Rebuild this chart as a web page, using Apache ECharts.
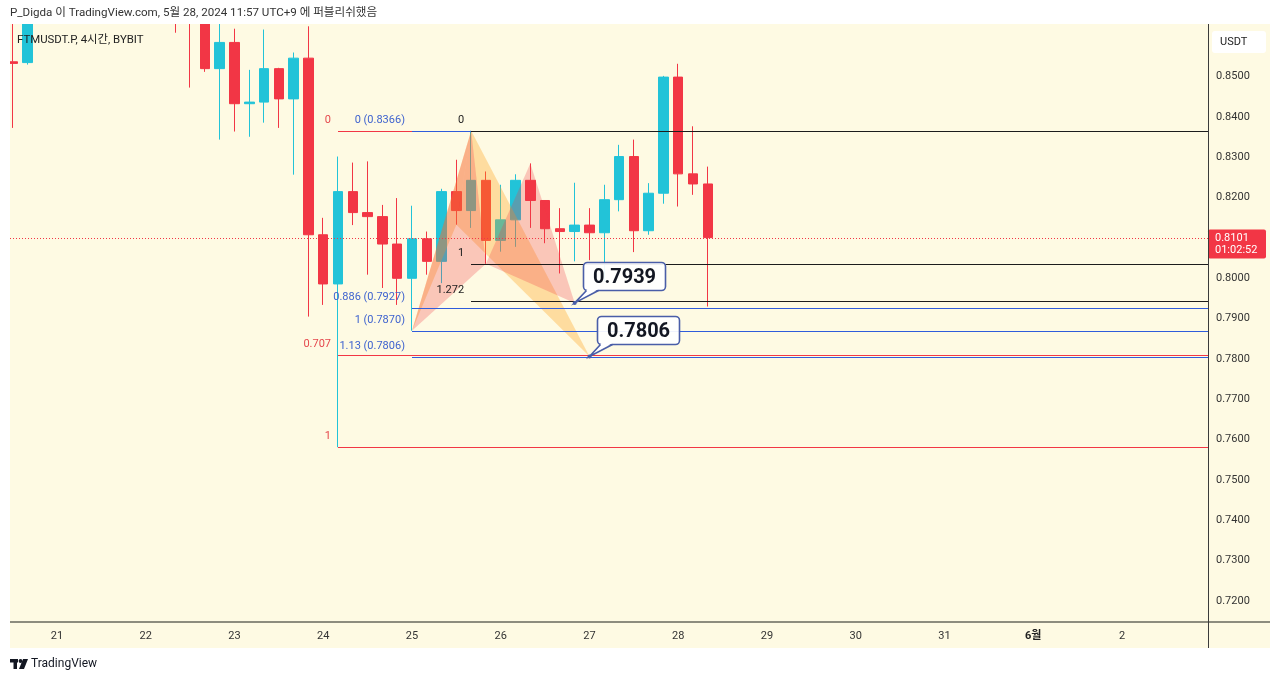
<!DOCTYPE html>
<html>
<head>
<meta charset="utf-8">
<script src="https://cdn.jsdelivr.net/npm/echarts@6/dist/echarts.min.js"></script>
<style>
html,body{margin:0;padding:0;background:#ffffff;}
#chart{width:1280px;height:681px;}
</style>
</head>
<body>
<div id="chart"></div>
<script>
// ---- data (x = hours since 2024-05-20 00:00, 4h candles) ----
const candleHours = [12,16,56,60,64,68,72,76,80,84,88,92,96,100,104,108,112,116,120,124,128,132,136,140,144,148,152,156,160,164,168,172,176,180,184,188,192,196,200];
const opens  = [0.8537,0.8535,0.8740,0.8700,0.8680,0.8520,0.8585,0.8433,0.8437,0.8520,0.8445,0.8546,0.8108,0.7986,0.8215,0.8163,0.8153,0.8085,0.8000,0.8098,0.8042,0.8215,0.8168,0.8243,0.8094,0.8145,0.8243,0.8193,0.8123,0.8116,0.8132,0.8113,0.8195,0.8302,0.8118,0.8211,0.8499,0.8259,0.8234];
const closes = [0.8533,0.8680,0.8660,0.8650,0.8520,0.8585,0.8433,0.8437,0.8520,0.8445,0.8546,0.8108,0.7986,0.8215,0.8163,0.8153,0.8085,0.8000,0.8098,0.8042,0.8215,0.8168,0.8243,0.8094,0.8145,0.8243,0.8193,0.8123,0.8116,0.8132,0.8113,0.8195,0.8302,0.8118,0.8211,0.8499,0.8259,0.8234,0.8101];
const lows   = [0.8373,0.8530,0.8609,0.8473,0.8512,0.8344,0.8364,0.8351,0.8386,0.8373,0.8257,0.7905,0.7934,0.7581,0.8132,0.8009,0.7976,0.7934,0.7870,0.8009,0.7988,0.8133,0.8125,0.8036,0.8066,0.8078,0.8125,0.8087,0.8012,0.8042,0.8045,0.7992,0.8166,0.8065,0.8108,0.8185,0.8178,0.8207,0.7930];
const highs  = [0.8680,0.8720,0.8770,0.8730,0.8700,0.8660,0.8619,0.8517,0.8617,0.8522,0.8560,0.8625,0.8150,0.8302,0.8287,0.8290,0.8182,0.8199,0.8180,0.8116,0.8222,0.8294,0.8366,0.8265,0.8232,0.8258,0.8285,0.8193,0.8174,0.8237,0.8174,0.8232,0.8331,0.8344,0.8236,0.8502,0.8532,0.8377,0.8277];

const priceTicks = [0.72,0.73,0.74,0.75,0.76,0.77,0.78,0.79,0.80,0.81,0.82,0.83,0.84,0.85];
const dayTicks   = [24,48,72,96,120,144,168,192,216,240,264,288,312];
const dayLabels  = ['21','22','23','24','25','26','27','28','29','30','31','6월','2'];

const lastPrice = 0.8101;
const countdown = '01:02:52';

// Fibonacci drawings
const redFibLabels = ['0','0.707','1'];
const redFibPrices = [0.8366,0.7811,0.7581];
const redFibStart = 100;
const blueFibLabels = ['0 (0.8366)','0.886 (0.7927)','1 (0.7870)','1.13 (0.7806)'];
const blueFibPrices = [0.8366,0.7927,0.7870,0.7806];
const blueFibStart = 120;
const blackFibLabels = ['0','1','1.272'];
const blackFibPrices = [0.8366,0.8036,0.7944];
const blackFibStart = 136;

// harmonic patterns X, A, B, C, D  [hour, price]
const pinkPattern   = [[120,0.7870],[136,0.8366],[140,0.8036],[152,0.8285],[164,0.7939]];
const yellowPattern = [[120,0.7870],[136,0.8366],[132,0.8133],[136,0.8366],[168,0.7806]];

// callouts
const calloutHours  = [164,168];
const calloutPrices = [0.7939,0.7806];
const calloutTexts  = ['0.7939','0.7806'];

// ---- chart ----
const X_MIN = 11.29, X_MAX = 335.26;
const Y_MIN = 0.71476, Y_MAX = 0.86307;
const FONT = 'Roboto, "Noto Sans", "Noto Sans CJK KR", sans-serif';
const UP = '#22c3d8', DOWN = '#f23645';

const candleData = candleHours.map((h, i) => [h, opens[i], closes[i], lows[i], highs[i]]);

function crisp(v){ return Math.round(v) + 0.5; }

function fibSeries(name, labels, prices, start, lineColor, textColor){
  return {
    type: 'custom', name, z: 6, clip: false,
    coordinateSystem: 'cartesian2d',
    data: prices.map((p, i) => [start, p, i]),
    renderItem(params, api){
      const i = api.value(2);
      const a = api.coord([start, prices[i]]);
      const b = api.coord([X_MAX, prices[i]]);
      const y = Math.round(a[1]);
      const x0 = Math.round(a[0]);
      return {
        type: 'group',
        children: [
          {type:'rect', shape:{x:x0, y:y, width:Math.round(b[0]) - x0, height:1}, style:{fill:lineColor}},
          {type:'text', style:{text:labels[i], x:a[0]-7, y:y-11, align:'right', verticalAlign:'middle', fill:textColor, font:'11px ' + FONT}}
        ]
      };
    }
  };
}

function patternSeries(name, pts, fill){
  return {
    type: 'custom', name, z: 4, clip: true,
    coordinateSystem: 'cartesian2d',
    data: [[pts[0][0], pts[0][1], 0], [pts[2][0], pts[2][1], 2]],
    renderItem(params, api){
      const s = api.value(2);
      const poly = [pts[s], pts[s+1], pts[s+2]].map(p => api.coord(p));
      return {type:'polygon', shape:{points: poly}, style:{fill: fill}};
    }
  };
}

const option = {
  backgroundColor: '#ffffff',
  animation: false,
  grid: {left: 10, top: 24, width: 1198, height: 598},
  xAxis: {
    type: 'value', min: X_MIN, max: X_MAX,
    splitLine: {show: false},
    axisLine: {show: false},
    axisTick: {show: false},
    axisLabel: {
      customValues: dayTicks,
      margin: 9,
      color: '#333333',
      fontSize: 11,
      fontFamily: FONT,
      formatter: (v) => {
        const i = dayTicks.indexOf(v);
        const t = i >= 0 ? dayLabels[i] : '';
        return t.indexOf('월') >= 0 ? '{b|' + t + '}' : t;
      },
      rich: {b: {fontWeight: 'bold', fontSize: 11, color: '#222', fontFamily: FONT}}
    }
  },
  yAxis: {
    type: 'value', position: 'right', min: Y_MIN, max: Y_MAX, scale: true,
    splitLine: {show: false},
    axisLine: {show: false},
    axisTick: {show: false},
    axisLabel: {
      customValues: priceTicks,
      margin: 8,
      align: 'left',
      color: '#333333',
      fontSize: 11,
      fontFamily: FONT,
      formatter: (v) => v.toFixed(4)
    }
  },
  graphic: {
    elements: [
      {type:'rect', z:-10, silent:true, shape:{x:10, y:24, width:1260, height:624}, style:{fill:'#fefae3'}},
      // masks outside the plot (candles above the top edge are cut like the original)
      {type:'rect', z:15, silent:true, shape:{x:0, y:0, width:1280, height:24}, style:{fill:'#ffffff'}},
      {type:'rect', z:15, silent:true, shape:{x:0, y:0, width:10, height:681}, style:{fill:'#ffffff'}},
      {type:'rect', z:20, silent:true, shape:{x:10, y:621, width:1260, height:2}, style:{fill:'#8d8c7e'}},
      {type:'rect', z:20, silent:true, shape:{x:1208, y:24, width:1, height:624}, style:{fill:'#3b3b3b'}},
      {type:'text', z:20, silent:true, style:{text:'P_Digda 이 TradingView.com, 5월 28, 2024 11:57 UTC+9 에 퍼블리쉬했음', x:10, y:13, verticalAlign:'middle', fill:'#333333', font:'11.6px ' + FONT}},
      {type:'text', z:20, silent:true, style:{text:'FTMUSDT.P, 4시간, BYBIT', x:17, y:40, verticalAlign:'middle', fill:'#222222', font:'11.4px ' + FONT}},
      {type:'rect', z:20, silent:true, shape:{x:1212, y:31, width:54, height:22, r:3}, style:{fill:'#ffffff'}},
      {type:'text', z:21, silent:true, style:{text:'USDT', x:1220, y:42, verticalAlign:'middle', fill:'#222222', font:'11px ' + FONT}},
      // TradingView logo
      {type:'rect', z:20, silent:true, shape:{x:10, y:659, width:8, height:3.5}, style:{fill:'#131722'}},
      {type:'rect', z:20, silent:true, shape:{x:13.5, y:659, width:3.5, height:10}, style:{fill:'#131722'}},
      {type:'circle', z:20, silent:true, shape:{cx:20.5, cy:661, r:1.9}, style:{fill:'#131722'}},
      {type:'polygon', z:20, silent:true, shape:{points:[[23,659],[28,659],[24,669],[19,669]]}, style:{fill:'#131722'}},
      {type:'text', z:20, silent:true, style:{text:'TradingView', x:31, y:664, verticalAlign:'middle', fill:'#131722', font:'12px ' + FONT}}
    ]
  },
  series: [
    {
      type: 'candlestick', name: 'FTMUSDT.P', z: 2,
      data: candleData,
      encode: {x: 0, y: [1, 2, 3, 4]},
      barWidth: 10,
      clip: true,
      itemStyle: {color: UP, color0: DOWN, borderColor: UP, borderColor0: DOWN, borderWidth: 1}
    },
    patternSeries('pattern-yellow', yellowPattern, 'rgba(255,160,20,0.33)'),
    patternSeries('pattern-pink', pinkPattern, 'rgba(242,60,70,0.27)'),
    fibSeries('fib-red', redFibLabels, redFibPrices, redFibStart, '#f23645', '#e5484d'),
    fibSeries('fib-blue', blueFibLabels, blueFibPrices, blueFibStart, '#2f5cdb', '#3f63cf'),
    fibSeries('fib-black', blackFibLabels, blackFibPrices, blackFibStart, '#1c1c1c', '#222222'),
    {
      type: 'custom', name: 'last-price', z: 8, clip: false,
      coordinateSystem: 'cartesian2d',
      data: [[X_MAX, lastPrice]],
      renderItem(params, api){
        const r = api.coord([X_MAX, lastPrice]);
        const l = api.coord([X_MIN, lastPrice]);
        const y = crisp(r[1]);
        return {
          type: 'group',
          children: [
            {type:'line', shape:{x1:l[0], y1:y, x2:r[0], y2:y}, style:{stroke:'#f23645', lineWidth:1, lineDash:[1,2]}},
            {type:'rect', z2:10, shape:{x:r[0], y:r[1]-8, width:58, height:29, r:2}, style:{fill:'#f23645'}},
            {type:'text', z2:11, style:{text:lastPrice.toFixed(4), x:r[0]+7, y:r[1]+1, verticalAlign:'middle', fill:'#ffffff', font:'11px ' + FONT}},
            {type:'text', z2:11, style:{text:countdown, x:r[0]+7, y:r[1]+13, verticalAlign:'middle', fill:'#ffffff', font:'11px ' + FONT}}
          ]
        };
      }
    },
    {
      type: 'custom', name: 'callouts', z: 9, clip: false,
      coordinateSystem: 'cartesian2d',
      data: calloutHours.map((h, i) => [h, calloutPrices[i], i]),
      renderItem(params, api){
        const i = api.value(2);
        const a = api.coord([calloutHours[i], calloutPrices[i]]);
        const bx = Math.round(a[0] + 8) + 0.5, by = Math.round(a[1] - 41) + 0.5, w = 82, h = 28;
        const stroke = '#4a5ea8';
        return {
          type: 'group',
          children: [
            {type:'rect', shape:{x:bx, y:by, width:w, height:h, r:4}, style:{fill:'rgba(255,255,255,0.93)', stroke:stroke, lineWidth:1.6}},
            {type:'polygon', shape:{points:[[bx+4, by+h-1.5],[a[0], a[1]],[bx+15, by+h-1.5]]}, style:{fill:'#ffffff'}},
            {type:'polyline', shape:{points:[[bx+3, by+h],[a[0], a[1]],[bx+15, by+h]]}, style:{stroke:stroke, lineWidth:1.6, fill:null}},
            {type:'circle', shape:{cx:a[0], cy:a[1], r:2}, style:{fill:stroke}},
            {type:'text', style:{text:calloutTexts[i], x:bx + w/2, y:by + h/2 + 1, align:'center', verticalAlign:'middle', fill:'#131722', font:'bold 20px ' + FONT}}
          ]
        };
      }
    }
  ]
};

const chart = echarts.init(document.getElementById('chart'), null, {renderer: 'canvas'});
chart.setOption(option);
</script>
</body>
</html>
